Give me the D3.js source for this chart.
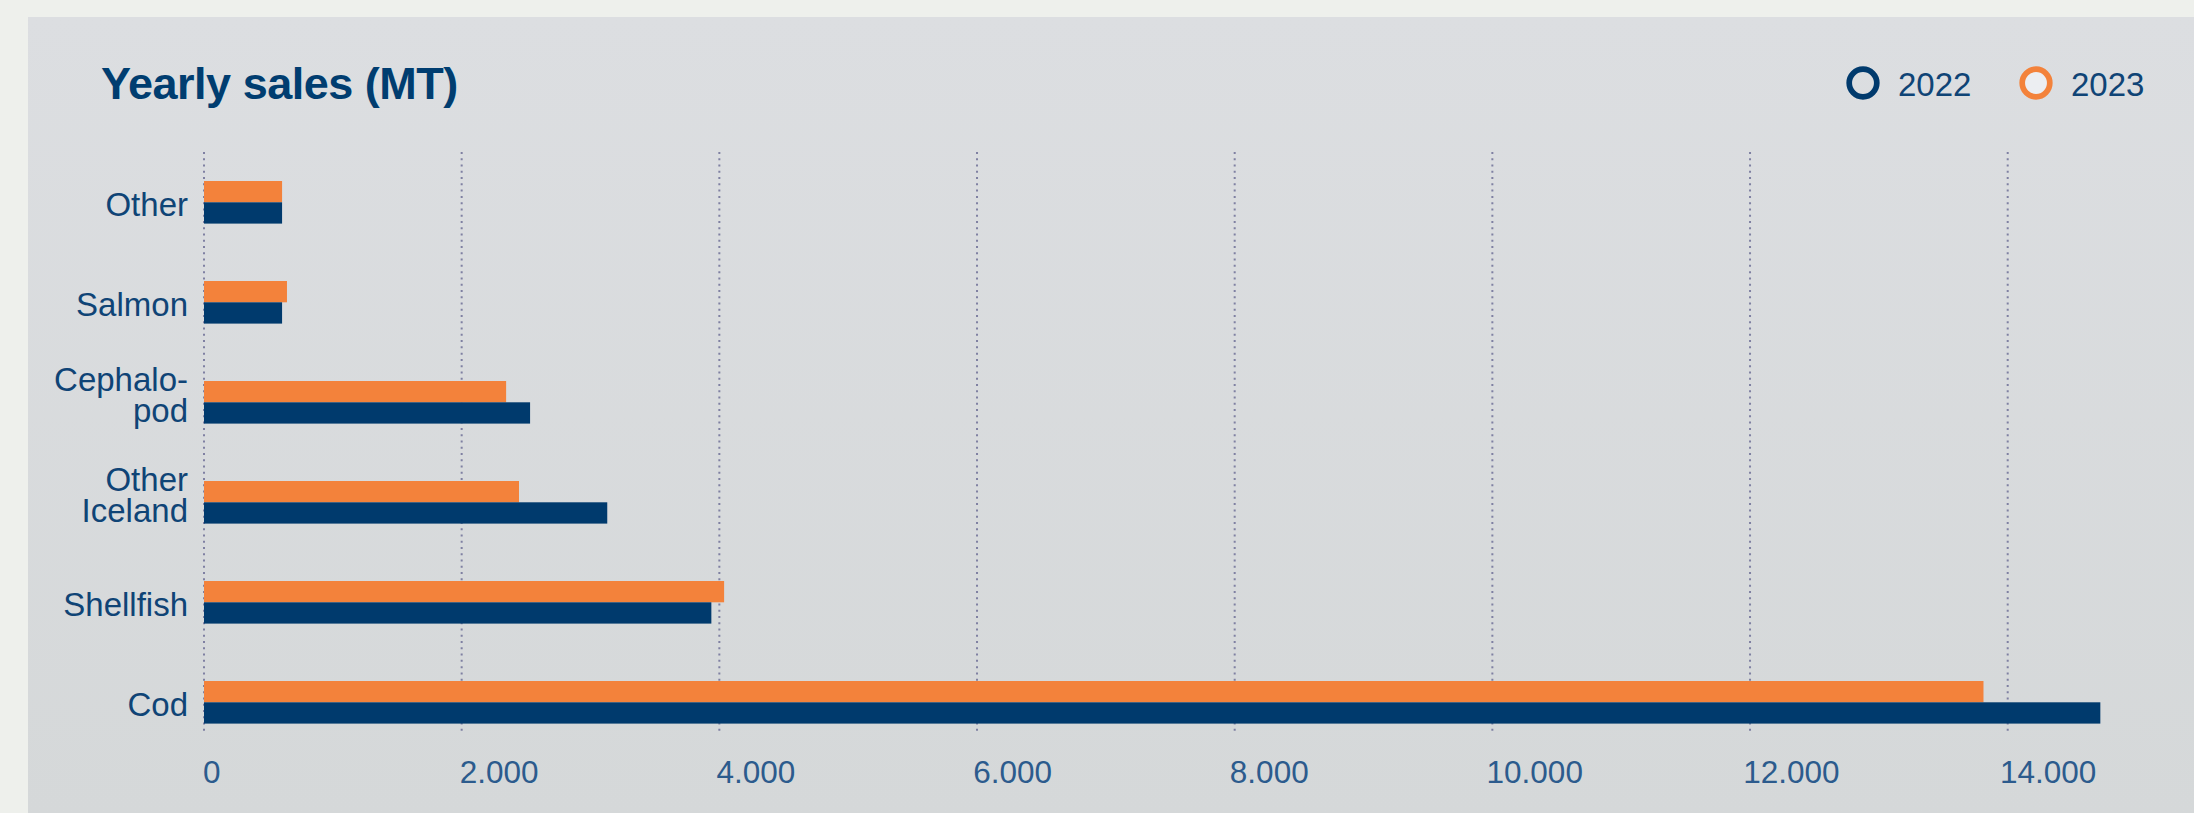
<!DOCTYPE html>
<html>
<head>
<meta charset="utf-8">
<script src="https://cdn.jsdelivr.net/npm/d3@7"></script>
<style>
  html, body { margin: 0; padding: 0; background: #eef0ec; }
  svg { display: block; }
  text { font-family: "Liberation Sans", Arial, Helvetica, sans-serif; }
</style>
</head>
<body>
<svg id="chart" width="2194" height="813"></svg>
<script>
// ---- data ----
const categories = ["Other", "Salmon", "Cephalopod", "Other Iceland", "Shellfish", "Cod"];
const categoryLabels = [["Other"], ["Salmon"], ["Cephalo-", "pod"], ["Other", "Iceland"], ["Shellfish"], ["Cod"]];
const seriesNames = ["2022", "2023"];
const values2022 = [606, 606, 2531, 3130, 3938, 14719];
const values2023 = [606, 644, 2345, 2445, 4037, 13812];
const tickValues = [0, 2000, 4000, 6000, 8000, 10000, 12000, 14000];
const titleText = "Yearly sales (MT)";

// ---- styles ----
const navy = "#003a6d";
const orange = "#f3823b";
const labelColor = "#0f4476";
const tickColor = "#2c5b8d";
const gridColor = "#7f80a2";

const svg = d3.select("#chart");
const W = 2194, H = 813;

// background panel
const defs = svg.append("defs");
const grad = defs.append("linearGradient").attr("id", "bg").attr("x1", 0).attr("y1", 0).attr("x2", 0).attr("y2", 1);
grad.append("stop").attr("offset", "0%").attr("stop-color", "#dcdee1");
grad.append("stop").attr("offset", "100%").attr("stop-color", "#d5d8d9");
svg.append("rect").attr("x", 0).attr("y", 0).attr("width", W).attr("height", H).attr("fill", "#eef0ec");
svg.append("rect").attr("x", 28).attr("y", 17).attr("width", W - 28).attr("height", H - 17).attr("fill", "url(#bg)");

// scales
const x = d3.scaleLinear().domain([0, 14000]).range([204, 2007.7]);
const xLabel = d3.scaleLinear().domain([0, 14000]).range([203, 2000]);
const y = d3.scaleBand().domain(categories).range([152, 752]);
const inner = d3.scaleBand().domain(["2023", "2022"]).range([-21, 21.6]);
const color = d3.scaleOrdinal().domain(seriesNames).range([navy, orange]);

// gridlines
svg.append("g").selectAll("line").data(tickValues).join("line")
  .attr("x1", d => x(d)).attr("x2", d => x(d))
  .attr("y1", 152).attr("y2", 735)
  .attr("stroke", gridColor).attr("stroke-width", 2)
  .attr("stroke-dasharray", "2 4.27");

// bars
const rows = categories.map((c, i) => ({ c, v2022: values2022[i], v2023: values2023[i] }));
const g = svg.append("g");
rows.forEach(r => {
  const cy = y(r.c) + y.bandwidth() / 2;
  [["2023", r.v2023], ["2022", r.v2022]].forEach(([s, v]) => {
    g.append("rect")
      .attr("x", x(0))
      .attr("y", cy + inner(s))
      .attr("width", x(v) - x(0))
      .attr("height", inner.bandwidth())
      .attr("fill", color(s));
  });
});

// category labels
const lab = svg.append("g");
categories.forEach((c, i) => {
  const cy = y(c) + y.bandwidth() / 2;
  const lines = categoryLabels[i];
  if (lines.length === 1) {
    lab.append("text")
      .attr("text-anchor", "end").attr("font-size", 33).attr("fill", labelColor)
      .attr("x", 188).attr("y", cy + 14).text(lines[0]);
  } else {
    lines.forEach((l, k) => {
      lab.append("text")
        .attr("text-anchor", "end").attr("font-size", 33).attr("fill", labelColor)
        .attr("x", 188).attr("y", cy - 11 + k * 31).text(l);
    });
  }
});

// x tick labels
const fmt = d => d3.format(",")(d).replace(/,/g, ".");
svg.append("g").selectAll("text").data(tickValues).join("text")
  .attr("x", d => xLabel(d))
  .attr("y", 783)
  .attr("font-size", 31.5)
  .attr("fill", tickColor)
  .text(d => fmt(d));

// title
svg.append("text")
  .attr("x", 101).attr("y", 99)
  .attr("font-size", 45)
  .attr("font-weight", "bold")
  .attr("letter-spacing", -0.5)
  .attr("fill", "#003d70")
  .text(titleText);

// legend
const legendX = [1863, 2036];
const leg = svg.append("g");
seriesNames.forEach((s, i) => {
  leg.append("circle")
    .attr("cx", legendX[i]).attr("cy", 83).attr("r", 13.8)
    .attr("fill", i === 1 ? "#eceef2" : "none")
    .attr("stroke", color(s)).attr("stroke-width", 5.7);
  leg.append("text")
    .attr("x", legendX[i] + 35).attr("y", 96)
    .attr("font-size", 33)
    .attr("fill", "#0f4476")
    .text(s);
});
</script>
</body>
</html>
